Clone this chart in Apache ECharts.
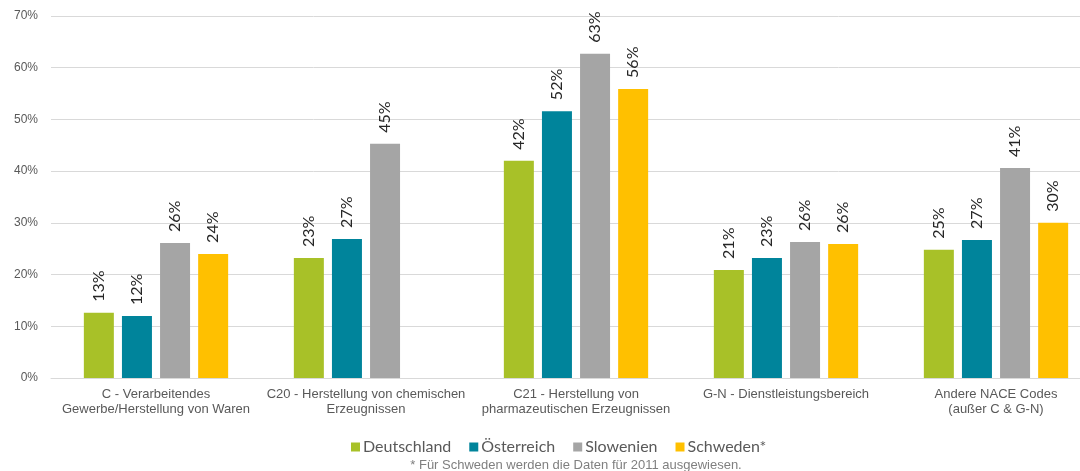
<!DOCTYPE html>
<html><head><meta charset="utf-8">
<script src="https://cdn.jsdelivr.net/npm/echarts@6/dist/echarts.min.js"></script>
<style>html,body{margin:0;padding:0;background:#fff;overflow:hidden;width:1080px;height:471px}#c{width:1101px;height:471px}</style>
</head><body><div id="c"></div>
<script>
const categories = ["C - Verarbeitendes\nGewerbe/Herstellung von Waren","C20 - Herstellung von chemischen\nErzeugnissen","C21 - Herstellung von\npharmazeutischen Erzeugnissen","G-N - Dienstleistungsbereich","Andere NACE Codes\n(außer C & G-N)"];
const seriesNames = ["Deutschland","Österreich","Slowenien","Schweden*"];
const deutschland = [12.6, 23.2, 42.0, 20.9, 24.8];
const oesterreich = [12.0, 26.9, 51.6, 23.2, 26.7];
const slowenien = [26.1, 45.3, 62.7, 26.3, 40.6];
const schweden = [24.0, null, 55.9, 25.9, 30.0];
const yTicks = [0,10,20,30,40,50,60,70];
const footnote = "* Für Schweden werden die Daten für 2011 ausgewiesen.";
const colors = ["#a8c128","#00849b","#a5a5a5","#ffc000"];
const values = [deutschland, oesterreich, slowenien, schweden];

const chart = echarts.init(document.getElementById('c'), null, {renderer:'canvas'});
chart.setOption({
  animation:false,
  color: colors,
  grid:{left:51, right:0, top:16, bottom:93, containLabel:false},
  legend:{
    data: seriesNames, left: 346, top: 434, itemWidth:9, itemHeight:9, itemGap:18,
    icon:'rect',
    textStyle:{fontFamily:'Lato', fontSize:16, color:'#595959', padding:[0,0,0,-2]}
  },
  title:{
    text: footnote, left: 571, textAlign:'center', top: 454,
    textStyle:{fontFamily:'Liberation Sans', fontSize:13, fontWeight:'normal', color:'#7f7f7f'}
  },
  xAxis:{
    type:'category', data: categories,
    axisLine:{lineStyle:{color:'#d9d9d9', width:1}},
    axisTick:{show:false},
    axisLabel:{fontFamily:'Liberation Sans', fontSize:13, color:'#595959', lineHeight:15, margin:9, interval:0}
  },
  yAxis:{
    type:'value', min:0, max:70, interval:10,
    axisLabel:{formatter: v => v + '%', fontFamily:'Liberation Sans', fontSize:12, color:'#595959', margin:13},
    splitLine:{lineStyle:{color:'#d9d9d9', width:1}},
    axisLine:{show:false}, axisTick:{show:false}
  },
  series: seriesNames.map((n,i)=>({
    name:n, type:'bar', data: values[i], barWidth:30, barGap:'27%',
    label:{
      show:true, position:'top', rotate:90, align:'left', verticalAlign:'middle', distance:11,
      formatter: p => Math.round(p.value) + '%',
      fontFamily:'Lato', fontSize:16, color:'#262626'
    }
  }))
});
</script></body></html>
